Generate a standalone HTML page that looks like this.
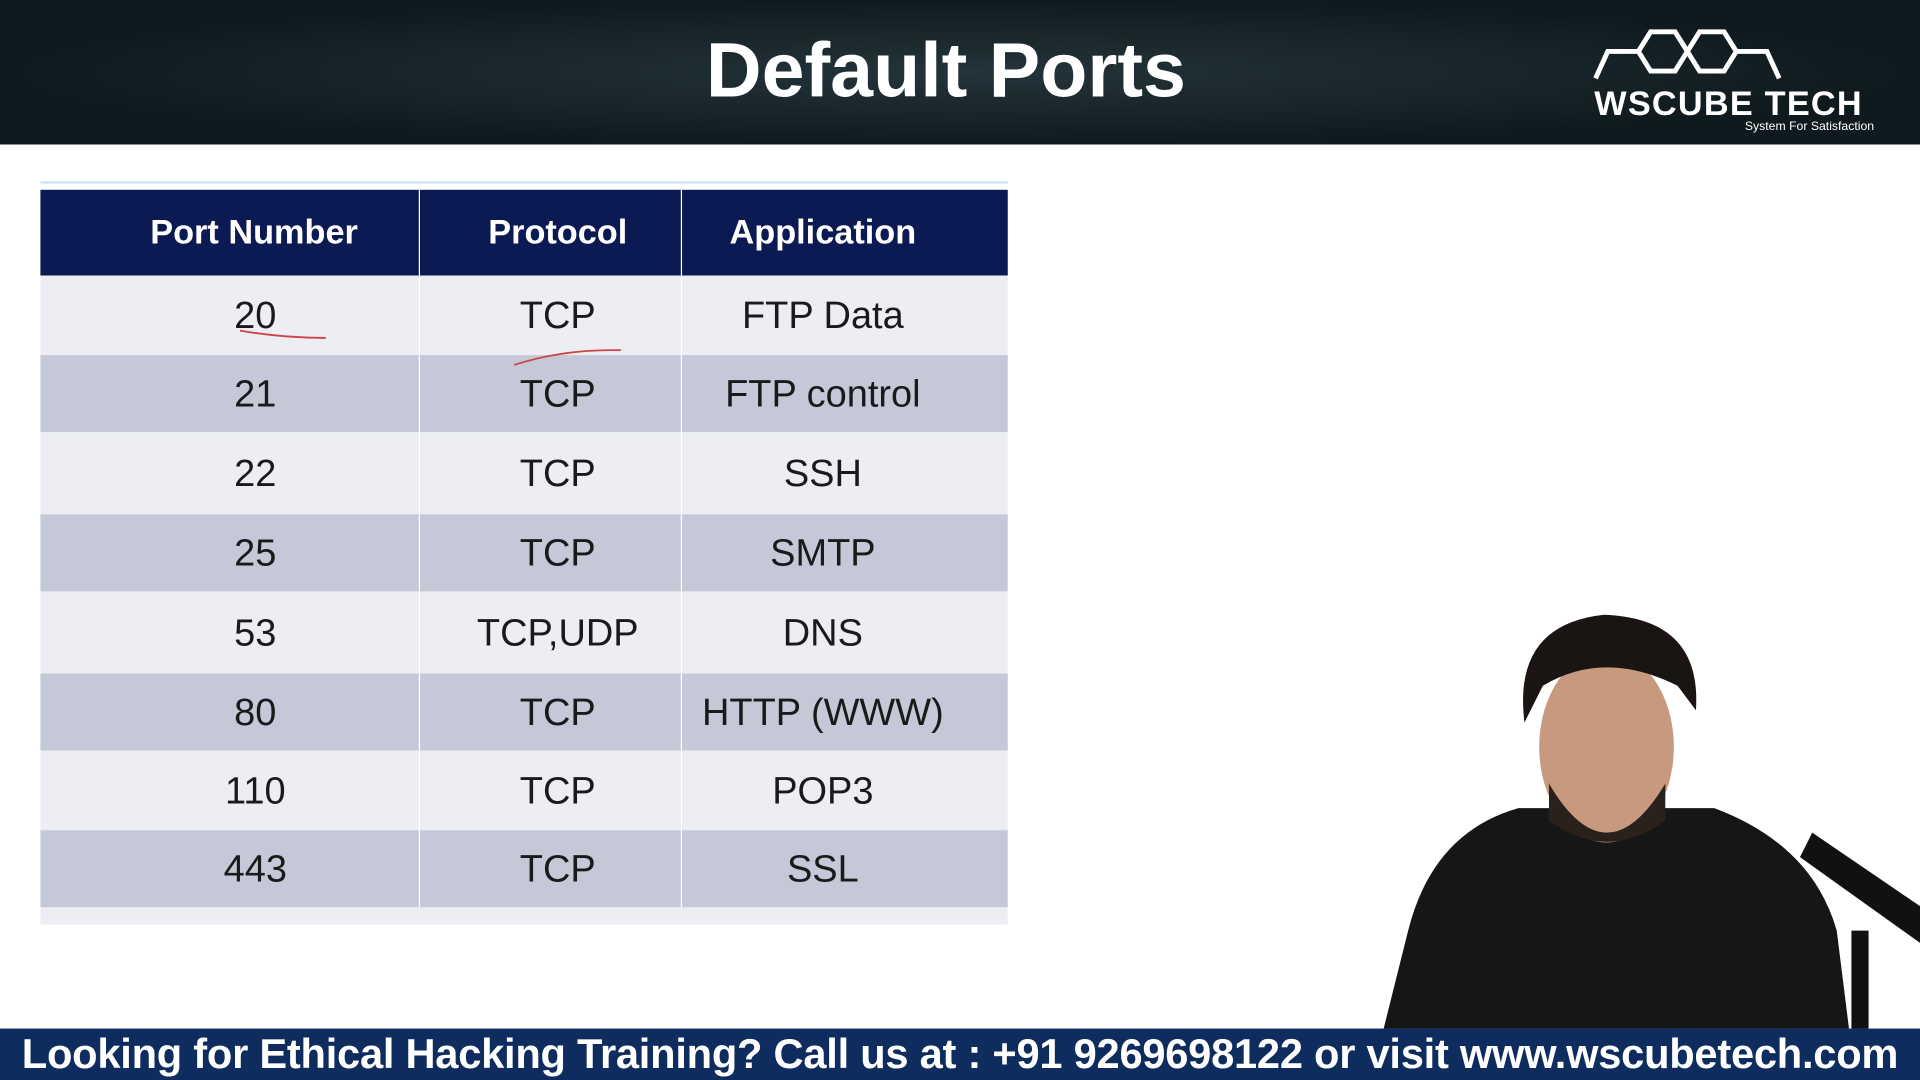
<!DOCTYPE html>
<html><head><meta charset="utf-8"><style>
html,body{margin:0;padding:0;width:1920px;height:1080px;overflow:hidden;background:#fff}
#w{position:absolute;left:0;top:0;width:1568px;height:882px;transform:scale(1.22449);transform-origin:0 0;font-family:"Liberation Sans",sans-serif}
.hdr{position:absolute;left:0;top:0;width:1568px;height:118px;background:radial-gradient(ellipse at 50% 50%,#24343a,#0f1a1e 70%)}
.title{position:absolute;left:0;width:1545px;top:22px;text-align:center;color:#fff;font-weight:bold;font-size:63px}
.tbl{position:absolute;left:33px;top:150px;width:790px}
.r{position:absolute;left:0;width:790px;display:flex}
.r div{display:flex;align-items:center;justify-content:center;font-size:31px;color:#1a1a1a;box-sizing:border-box}
.c1{width:309px;padding-left:42px}.c2{width:214px;border-left:1px solid #fff;padding-left:12px}.c3{width:267px;border-left:1px solid #fff;padding-right:36px}
.h div{color:#fff;font-weight:bold;font-size:28px}
.foot{position:absolute;left:0;top:840px;width:1568px;height:42px;background:#0e2c5e;color:#fff;font-weight:bold;font-size:34px;line-height:42px;text-align:center;white-space:nowrap;letter-spacing:-0.2px}
</style></head><body><div id="w">
<div class="hdr"></div>
<div class="title">Default Ports</div>
<svg style="position:absolute;left:1298px;top:14px" width="250" height="100">
<g fill="none" stroke="#fff" stroke-width="4"><polygon points="40,28 50,12 70,12 80,28 70,44 50,44"/><polygon points="80,28 90,12 110,12 120,28 110,44 90,44"/><polyline points="5,50 15,28 40,28"/><polyline points="120,28 145,28 155,50"/></g>
<text x="4" y="80" fill="#fff" font-family="Liberation Sans" font-weight="bold" font-size="28" letter-spacing="1">WSCUBE TECH</text>
<text x="127" y="92" fill="#fff" font-family="Liberation Sans" font-size="10">System For Satisfaction</text></svg>
<div class="tbl">
<div class="r" style="top:-2px;height:2px;background:#cfe3f5"></div>
<div class="r h" style="top:5px;height:70px;background:#0b1a52"><div class="c1" style="padding-left:40px">Port Number</div><div class="c2">Protocol</div><div class="c3">Application</div></div>
<div class="r" style="top:75px;height:65px;background:#eceef4"><div class="c1">20</div><div class="c2">TCP</div><div class="c3">FTP Data</div></div>
<div class="r" style="top:140px;height:63px;background:#c5c9d7"><div class="c1">21</div><div class="c2">TCP</div><div class="c3">FTP control</div></div>
<div class="r" style="top:203px;height:67px;background:#eceef4"><div class="c1">22</div><div class="c2">TCP</div><div class="c3">SSH</div></div>
<div class="r" style="top:270px;height:63px;background:#c5c9d7"><div class="c1">25</div><div class="c2">TCP</div><div class="c3">SMTP</div></div>
<div class="r" style="top:333px;height:67px;background:#eceef4"><div class="c1">53</div><div class="c2">TCP,UDP</div><div class="c3">DNS</div></div>
<div class="r" style="top:400px;height:63px;background:#c5c9d7"><div class="c1">80</div><div class="c2">TCP</div><div class="c3">HTTP (WWW)</div></div>
<div class="r" style="top:463px;height:65px;background:#eceef4"><div class="c1">110</div><div class="c2">TCP</div><div class="c3">POP3</div></div>
<div class="r" style="top:528px;height:63px;background:#c5c9d7"><div class="c1">443</div><div class="c2">TCP</div><div class="c3">SSL</div></div>
<div class="r" style="top:591px;height:14px;background:#eceef4"></div>
</div>
<svg style="position:absolute;left:0;top:0" width="1568" height="882">
<path d="M196 270 Q230 276 266 276" stroke="#c44" fill="none" stroke-width="1.5"/>
<path d="M420 298 Q460 285 507 286" stroke="#c44" fill="none" stroke-width="1.5"/>
<path d="M1130 840 L1150 760 Q1170 680 1240 660 L1400 660 Q1480 690 1500 760 L1510 840 Z" fill="#141716"/>
<ellipse cx="1312" cy="610" rx="55" ry="78" fill="#c79a80"/>
<path d="M1245 590 Q1235 510 1310 502 Q1390 505 1385 580 L1370 560 Q1310 530 1260 560 Z" fill="#1a1412"/>
<path d="M1265 640 Q1312 720 1360 640 L1360 670 Q1312 705 1265 670 Z" fill="#2a211d"/>
<path d="M1470 700 L1568 770 L1568 740 L1480 680 Z" fill="#111"/>
<rect x="1512" y="760" width="14" height="80" fill="#111"/>
</svg>
<div class="foot">Looking for Ethical Hacking Training? Call us at : +91 9269698122 or visit www.wscubetech.com</div>
</div></body></html>
